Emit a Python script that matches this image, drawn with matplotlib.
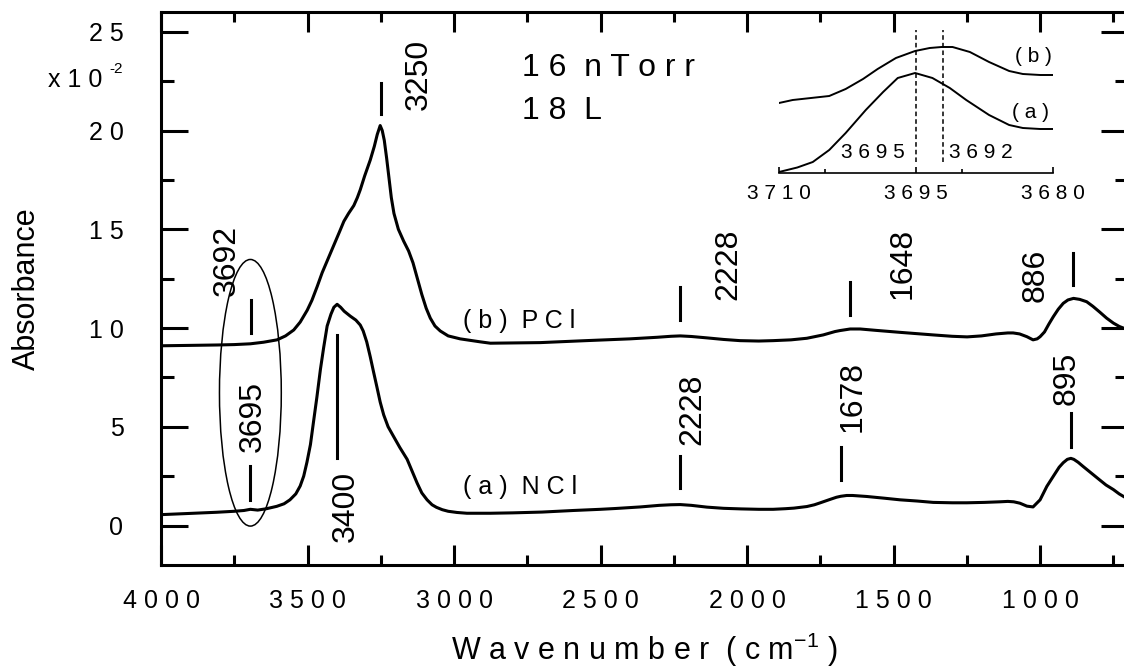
import matplotlib.pyplot as plt
from matplotlib.patches import Ellipse
from matplotlib.ticker import MultipleLocator, FixedLocator, FuncFormatter

plt.rcParams['font.family'] = ['Liberation Sans', 'DejaVu Sans']
plt.rcParams['mathtext.fontset'] = 'custom'
plt.rcParams['mathtext.rm'] = 'Liberation Sans'

# (a) NCl spectrum, absorbance in units of 1e-2
nu_a = [4000, 3920, 3810, 3750, 3717, 3695, 3670, 3640, 3605, 3580, 3560, 3540,
        3525, 3513, 3502, 3490, 3480, 3468, 3456, 3445, 3433, 3420, 3410, 3399,
        3387, 3375, 3354, 3335, 3320, 3310, 3298, 3286, 3275, 3263, 3252, 3240,
        3225, 3206, 3185, 3160, 3143, 3126, 3110, 3092, 3075, 3060, 3040, 3020,
        2990, 2956, 2876, 2800, 2700, 2593, 2500, 2450, 2364, 2300, 2260, 2228,
        2190, 2137, 2080, 2020, 1960, 1911, 1870, 1840, 1796, 1770, 1750, 1717,
        1695, 1680, 1660, 1640, 1592, 1530, 1478, 1420, 1365, 1300, 1250, 1190,
        1137, 1110, 1090, 1069, 1045, 1024, 1000, 977, 955, 935, 921, 907, 895,
        885, 870, 854, 825, 796, 775, 750, 730, 713, 700]
abs_a = [0.55, 0.6, 0.67, 0.72, 0.76, 0.82, 0.78, 0.85, 0.97, 1.1, 1.3, 1.6,
         2.0, 2.5, 3.2, 4.1, 5.2, 6.5, 7.9, 9.0, 10.1, 10.7, 11.05, 11.2,
         11.05, 10.85, 10.6, 10.4, 10.15, 9.85, 9.3, 8.55, 7.8, 7.0, 6.25, 5.6,
         5.0, 4.5, 3.95, 3.35, 2.75, 2.15, 1.65, 1.3, 1.05, 0.92, 0.8, 0.72,
         0.66, 0.62, 0.62, 0.64, 0.68, 0.76, 0.82, 0.86, 0.94, 1.02, 1.05, 1.06,
         1.02, 0.93, 0.87, 0.84, 0.82, 0.82, 0.85, 0.88, 0.96, 1.05, 1.15, 1.32,
         1.43, 1.48, 1.52, 1.52, 1.47, 1.38, 1.3, 1.24, 1.17, 1.15, 1.15, 1.17,
         1.2, 1.22, 1.2, 1.13, 0.98, 0.94, 1.3, 1.98, 2.49, 2.95, 3.18, 3.35, 3.4,
         3.35, 3.2, 3.0, 2.65, 2.3, 2.05, 1.82, 1.6, 1.45, 1.38]

# (b) PCl spectrum
nu_b = [4000, 3900, 3808, 3750, 3695, 3650, 3604, 3575, 3547, 3525, 3501, 3485,
        3467, 3450, 3430, 3410, 3390, 3376, 3360, 3342, 3330, 3320, 3305, 3286,
        3272, 3262, 3252, 3245, 3238, 3230, 3222, 3214, 3205, 3190, 3172, 3155,
        3140, 3125, 3110, 3095, 3081, 3065, 3047, 3020, 2979, 2911, 2876, 2706,
        2550, 2400, 2307, 2260, 2228, 2190, 2137, 2080, 2024, 1960, 1911, 1850,
        1796, 1740, 1700, 1683, 1648, 1614, 1560, 1478, 1365, 1300, 1249, 1200,
        1150, 1110, 1092, 1070, 1045, 1024, 1010, 1000, 985, 970, 955, 938, 921,
        905, 886, 865, 841, 820, 796, 773, 750, 730, 713, 700]
abs_b = [9.1, 9.12, 9.14, 9.16, 9.2, 9.28, 9.4, 9.6, 9.9, 10.3, 10.9, 11.4,
         12.1, 12.8, 13.5, 14.2, 14.9, 15.4, 15.8, 16.2, 16.6, 17.0, 17.7, 18.5,
         19.2, 19.8, 20.25, 20.0, 19.5, 18.6, 17.6, 16.6, 15.8, 15.0, 14.4, 13.9,
         13.3, 12.5, 11.7, 11.0, 10.5, 10.1, 9.85, 9.6, 9.45, 9.3, 9.23, 9.26,
         9.36, 9.45, 9.53, 9.58, 9.6, 9.57, 9.5, 9.42, 9.36, 9.34, 9.36, 9.4,
         9.48, 9.65, 9.82, 9.87, 9.95, 9.95, 9.88, 9.78, 9.65, 9.58, 9.55, 9.6,
         9.7, 9.75, 9.75, 9.7, 9.56, 9.4, 9.45, 9.56, 9.8, 10.2, 10.57, 10.95, 11.25,
         11.42, 11.5, 11.45, 11.33, 11.1, 10.8, 10.5, 10.25, 10.08, 9.98, 9.92]

# assigned bands
peaks_a = [3695, 3400, 2228, 1678, 895]
peaks_b = [3692, 3250, 2228, 1648, 886]
# (bar bottom, bar top, label x offset in px, label y)
marks_a = [(1.3, 3.0, 2, 5.52), (3.42, 9.65, 9, 0.97), (1.9, 3.5, 12, 5.9),
           (2.3, 4.0, 11, 6.53), (4.0, 5.7, -4, 7.46)]
marks_b = [(9.75, 11.4, -24, 13.43), (20.85, 22.4, 38, 22.83), (10.4, 12.09, 48, 13.23),
           (10.66, 12.34, 52, 13.27), (12.17, 13.79, -38, 12.68)]

# expanded view of the O-H region
nu_in_a = [3710, 3708, 3706.3, 3704.5, 3702.7, 3700.5, 3698.6, 3697, 3695.1,
           3693.2, 3691.3, 3689.5, 3687, 3684.8, 3683.3, 3681.4, 3680]
abs_in_a = [0.1, 0.55, 1.1, 2.3, 4.0, 6.3, 8.1, 9.5, 10.0, 9.5, 8.5, 7.3, 5.8,
            4.8, 4.5, 4.4, 4.4]
nu_in_b = [3710, 3708.5, 3706.5, 3704.5, 3702.7, 3700.8, 3699.2, 3697.2, 3695.1,
           3693.5, 3692.2, 3691, 3689.1, 3687, 3684.8, 3683.3, 3681.4, 3680]
abs_in_b = [7.0, 7.3, 7.5, 7.7, 8.4, 9.4, 10.4, 11.5, 12.2, 12.5, 12.6, 12.6,
            12.1, 11.1, 10.2, 9.9, 9.8, 9.8]
inset_peaks = [3695, 3692]
inset_ticks = [3710, 3695, 3680]
inset_minor = [3705, 3690]

PX = 0.72  # points per pixel at 100 dpi


def spaced(s):
    return ' '.join(s)


fig = plt.figure(figsize=(11.24, 6.67), dpi=100)
ax = fig.add_axes([161 / 1124, 102 / 667, 967 / 1124, 553 / 667])

ax.plot(nu_a, abs_a, color='black', lw=2.2)
ax.plot(nu_b, abs_b, color='black', lw=2.2)
ax.set_xlim(4000, 700)
ax.set_ylim(-2, 26)

ax.xaxis.set_major_locator(MultipleLocator(500))
ax.xaxis.set_minor_locator(MultipleLocator(250))
ax.yaxis.set_major_locator(MultipleLocator(5))
ax.yaxis.set_minor_locator(MultipleLocator(2.5))
fmt = FuncFormatter(lambda v, p: spaced(f'{v:.0f}'))
ax.xaxis.set_major_formatter(fmt)
ax.yaxis.set_major_formatter(fmt)

ax.tick_params(which='both', direction='in', top=True, right=True, width=2.2,
               labelsize=18)
ax.tick_params(axis='x', which='major', length=14.4, pad=17)
ax.tick_params(axis='x', which='minor', length=7.2)
ax.tick_params(axis='y', which='major', length=19.4, pad=27)
ax.tick_params(axis='y', which='minor', length=9.4)
for sp in ax.spines.values():
    sp.set_linewidth(2.2)

ax.set_ylabel('Absorbance', fontsize=22)
ax.yaxis.set_label_coords(-0.123, 0.5)
ax.set_xlabel('W a v e n u m b e r  ( c m$^{-1}$ )', fontsize=22)
ax.xaxis.set_label_coords(0.5, -0.118)
fig.text(102 / 1124, 1 - 80 / 667, 'x 1 0', ha='right', va='center', fontsize=18)
fig.text(109 / 1124, 1 - 69 / 667, '-2', ha='left', va='center', fontsize=11)

# band markers
for peaks, marks in [(peaks_a, marks_a), (peaks_b, marks_b)]:
    for nu, (y0, y1, dx, ty) in zip(peaks, marks):
        ax.plot([nu, nu], [y0, y1], color='black', lw=2.2)
        ax.annotate(str(nu), xy=(nu, ty), xytext=(dx * PX, 0),
                    textcoords='offset points', rotation=90,
                    ha='center', va='center', fontsize=23)

ax.add_patch(Ellipse((3695, 6.72), width=211, height=13.5, fill=False,
                     color='black', lw=1.1))

ax.text(2767, 23.16, '1 6  n T o r r', fontsize=23, ha='left', va='center')
ax.text(2767, 21.0, '1 8  L', fontsize=23, ha='left', va='center')
ax.text(2968, 10.35, '( b )  P C l', fontsize=18, ha='left', va='center')
ax.text(2968, 1.94, '( a )  N C l', fontsize=18, ha='left', va='center')

# inset
axin = fig.add_axes([779 / 1124, (667 - 173) / 667, 274 / 1124, 148 / 667])
axin.patch.set_visible(False)
axin.plot(nu_in_a, abs_in_a, color='black', lw=1.4)
axin.plot(nu_in_b, abs_in_b, color='black', lw=1.4)
axin.set_xlim(3710, 3680)
axin.set_ylim(0, 14.8)
for name in ['top', 'left', 'right']:
    axin.spines[name].set_visible(False)
axin.spines['bottom'].set_linewidth(1.2)
axin.yaxis.set_visible(False)
axin.xaxis.set_major_locator(FixedLocator(inset_ticks))
axin.xaxis.set_minor_locator(FixedLocator(inset_minor))
axin.xaxis.set_major_formatter(fmt)
axin.tick_params(which='both', direction='in', width=1.2, labelsize=15, pad=8)
axin.tick_params(which='major', length=4.5)
axin.tick_params(which='minor', length=3)

for nu in inset_peaks:
    axin.plot([nu, nu], [1.1, 14.3], color='black', lw=1.1, dashes=(3, 2))
axin.annotate(spaced(str(inset_peaks[0])), xy=(inset_peaks[0], 2.0),
              xytext=(-11 * PX, 0), textcoords='offset points',
              ha='right', va='center', fontsize=15)
axin.annotate(spaced(str(inset_peaks[1])), xy=(inset_peaks[1], 2.0),
              xytext=(6 * PX, 0), textcoords='offset points',
              ha='left', va='center', fontsize=15)
axin.text(3684.2, 11.6, '( b )', fontsize=15, ha='left', va='center')
axin.text(3684.5, 6.1, '( a )', fontsize=15, ha='left', va='center')

fig.savefig('out.png', dpi=100)
